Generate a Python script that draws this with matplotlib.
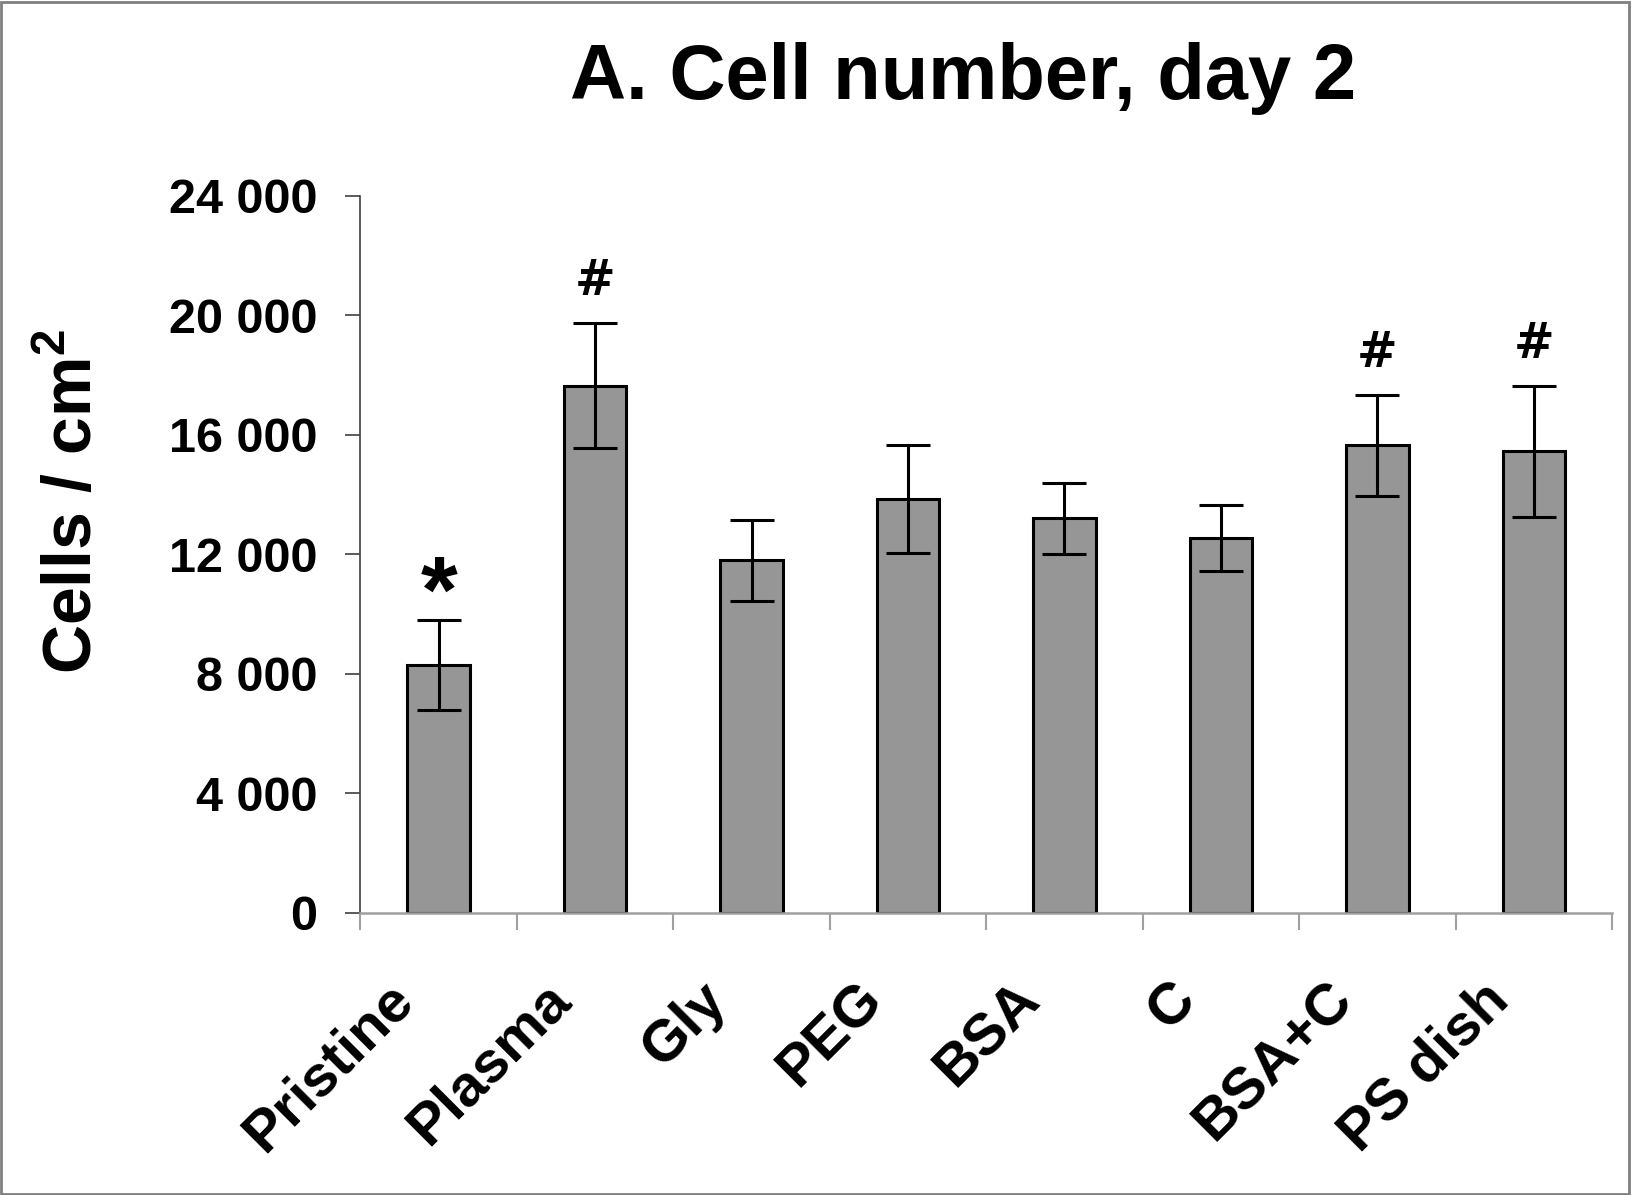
import numpy as np
import matplotlib
matplotlib.use("Agg")
import matplotlib.pyplot as plt
from matplotlib.patches import Rectangle

plt.rcParams.update({
    "font.family": ["Liberation Sans", "DejaVu Sans"],
    "font.weight": "bold",
    "mathtext.fontset": "custom",
    "mathtext.rm": "Liberation Sans:bold",
    "mathtext.bf": "Liberation Sans:bold",
})

categories = ["Pristine", "Plasma", "Gly", "PEG", "BSA", "C", "BSA+C", "PS dish"]
values = [8300, 17650, 11800, 13850, 13200, 12550, 15650, 15450]
errors = [1500, 2100, 1350, 1800, 1200, 1100, 1700, 2200]
marks = ["*", "#", "", "", "", "", "#", "#"]
y_ticks = [0, 4000, 8000, 12000, 16000, 20000, 24000]
y_tick_labels = ["0", "4 000", "8 000", "12 000", "16 000", "20 000", "24 000"]

fig = plt.figure(figsize=(16.33, 11.95), dpi=100)
ax = fig.add_axes([0.2207, 0.2363, 0.7665, 0.5997])

x = np.arange(len(categories))
ax.bar(x, values, width=0.4, color="#969696", edgecolor="black", linewidth=2.2, zorder=2)
ax.errorbar(x, values, yerr=errors, fmt="none", ecolor="black",
            elinewidth=2.2, capsize=16, capthick=2.2, zorder=3)

# significance marks above the error bars (font, fontsize, baseline offset in pt)
mark_style = {"*": ("Liberation Sans", 68, -1), "#": ("DejaVu Sans", 35, 20)}
for xi, v, e, m in zip(x, values, errors, marks):
    if not m:
        continue
    fam, fs, off = mark_style[m]
    ax.annotate(m, xy=(xi, v + e), xytext=(0, off), textcoords="offset points",
                ha="center", va="baseline", fontsize=fs, fontweight="bold", family=fam)

ax.set_xlim(-0.5, len(categories) - 0.5)
ax.set_ylim(0, 24000)
ax.set_yticks(y_ticks)
ax.set_yticklabels(y_tick_labels, fontsize=35, fontweight="bold")
ax.tick_params(axis="y", direction="out", length=11, width=1.2, color="#404040", pad=20)

ax.set_xticks(np.arange(len(categories) + 1) - 0.5)
ax.set_xticklabels([])
ax.tick_params(axis="x", direction="out", length=12, width=1.5, color="#a0a0a0")

for xi, name in zip(x, categories):
    ax.annotate(name, xy=(xi, 0), xycoords=("data", "axes fraction"),
                xytext=(-38, -43), textcoords="offset points",
                ha="right", va="top", rotation=45, rotation_mode="anchor",
                fontsize=42, fontweight="bold")

ax.spines["top"].set_visible(False)
ax.spines["right"].set_visible(False)
ax.spines["left"].set_color("#404040")
ax.spines["left"].set_linewidth(1.2)
ax.spines["bottom"].set_color("#a0a0a0")
ax.spines["bottom"].set_linewidth(1.8)

fig.text(0.045, 0.58, r"Cells / cm$^{\mathbf{2}}$", rotation=90, ha="center", va="center",
         fontsize=49, fontweight="bold")
fig.text(0.59, 0.917, "A. Cell number, day 2", ha="center", va="baseline",
         fontsize=56, fontweight="bold")

fig.patches.append(Rectangle((0.0005, 0.001), 0.997, 0.997, transform=fig.transFigure,
                             fill=False, edgecolor="#808080", linewidth=2))

fig.savefig("out.png", dpi=100, facecolor="white")
